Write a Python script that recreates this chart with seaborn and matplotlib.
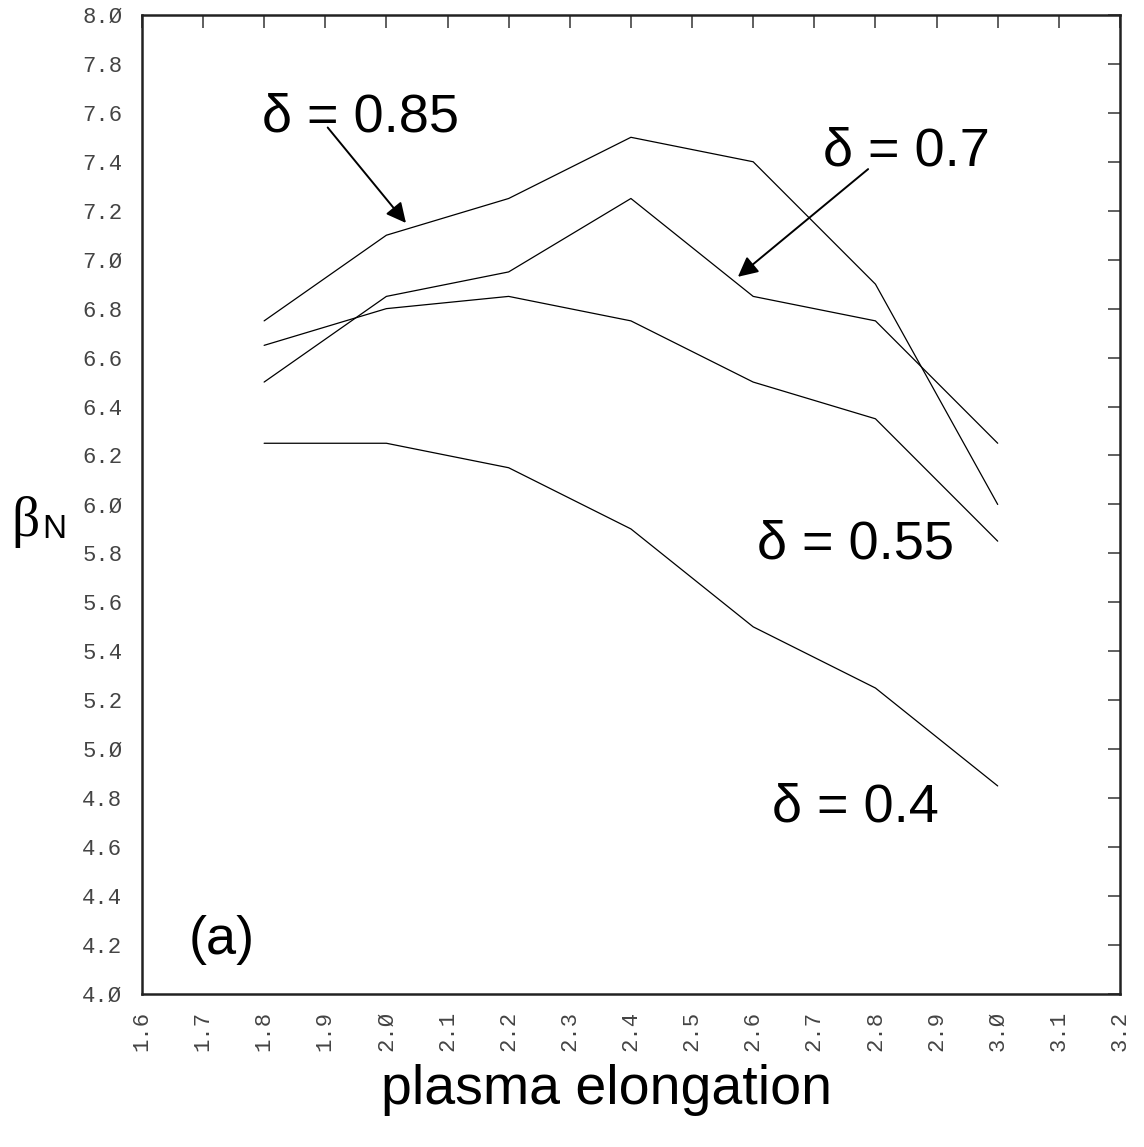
import numpy as np
import pandas as pd
import matplotlib
matplotlib.use("Agg")
import matplotlib.pyplot as plt
import seaborn as sns

elong = [1.8, 2.0, 2.2, 2.4, 2.6, 2.8, 3.0]
beta_085 = [6.75, 7.10, 7.25, 7.50, 7.40, 6.90, 6.00]
beta_070 = [6.50, 6.85, 6.95, 7.25, 6.85, 6.75, 6.25]
beta_055 = [6.65, 6.80, 6.85, 6.75, 6.50, 6.35, 5.85]
beta_040 = [6.25, 6.25, 6.15, 5.90, 5.50, 5.25, 4.85]
series_names = ["δ = 0.85", "δ = 0.7", "δ = 0.55", "δ = 0.4"]
xticks = [1.6, 1.7, 1.8, 1.9, 2.0, 2.1, 2.2, 2.3, 2.4, 2.5, 2.6, 2.7, 2.8, 2.9, 3.0, 3.1, 3.2]
yticks = [4.0, 4.2, 4.4, 4.6, 4.8, 5.0, 5.2, 5.4, 5.6, 5.8, 6.0, 6.2, 6.4, 6.6, 6.8, 7.0, 7.2, 7.4, 7.6, 7.8, 8.0]

rows = []
for name, vals in zip(series_names, [beta_085, beta_070, beta_055, beta_040]):
    for x, y in zip(elong, vals):
        rows.append({"elong": x, "beta": y, "delta": name})
df = pd.DataFrame(rows)

sns.set_style("white")
plt.rcParams['font.family'] = ['Liberation Sans', 'DejaVu Sans']
plt.rcParams['text.color'] = 'black'

fig = plt.figure(figsize=(11.44, 11.47), dpi=100)
ax = fig.add_axes([0.124, 0.1334, 0.855, 0.8536])

sns.lineplot(data=df, x="elong", y="beta", units="delta", estimator=None,
             color="black", linewidth=0.9, ax=ax, legend=False)

ax.set_xlim(1.6, 3.2)
ax.set_ylim(4.0, 8.0)

def fmt(v):
    return f"{v:.1f}".replace("0", "Ø")

tick_font = ['Liberation Mono', 'DejaVu Sans Mono']
ax.set_xticks(xticks)
ax.set_xticklabels([fmt(v) for v in xticks], rotation=90,
                   family=tick_font, fontsize=16, color="#444444")
ax.set_yticks(yticks)
ax.set_yticklabels([fmt(v) for v in yticks],
                   family=tick_font, fontsize=16, color="#444444")
ax.tick_params(axis="both", direction="in", length=9, width=1.2, color="#444444",
               top=True, right=True, labeltop=False, labelright=False)
ax.tick_params(axis="y", pad=14)
ax.tick_params(axis="x", pad=12)
for s in ax.spines.values():
    s.set_visible(True)
    s.set_color("#222222")
    s.set_linewidth(1.8)

ax.set_xlabel("")
ax.set_ylabel("")

big = 39
arrow_kw = dict(arrowstyle="-|>,head_length=0.6,head_width=0.3", color="black",
                lw=1.4, mutation_scale=20, shrinkA=0, shrinkB=0)
ax.text(1.958, 7.58, series_names[0], fontsize=big, ha="center", va="center")
ax.annotate("", xy=(2.032, 7.150), xytext=(1.904, 7.54), arrowprops=arrow_kw)
ax.text(2.85, 7.44, series_names[1], fontsize=big, ha="center", va="center")
ax.annotate("", xy=(2.575, 6.93), xytext=(2.788, 7.37), arrowprops=arrow_kw)
ax.text(2.767, 5.835, series_names[2], fontsize=big, ha="center", va="center")
ax.text(2.768, 4.76, series_names[3], fontsize=big, ha="center", va="center")
ax.text(1.731, 4.22, "(a)", fontsize=big, ha="center", va="center")

fig.text(0.530, 0.050, "plasma elongation", fontsize=40, ha="center", va="center")
fig.text(0.010, 0.545, "β", fontsize=40, ha="left", va="center",
         family=['Liberation Serif', 'DejaVu Serif'])
fig.text(0.037, 0.538, "N", fontsize=24, ha="left", va="center")

fig.savefig("out.png", dpi=100)
